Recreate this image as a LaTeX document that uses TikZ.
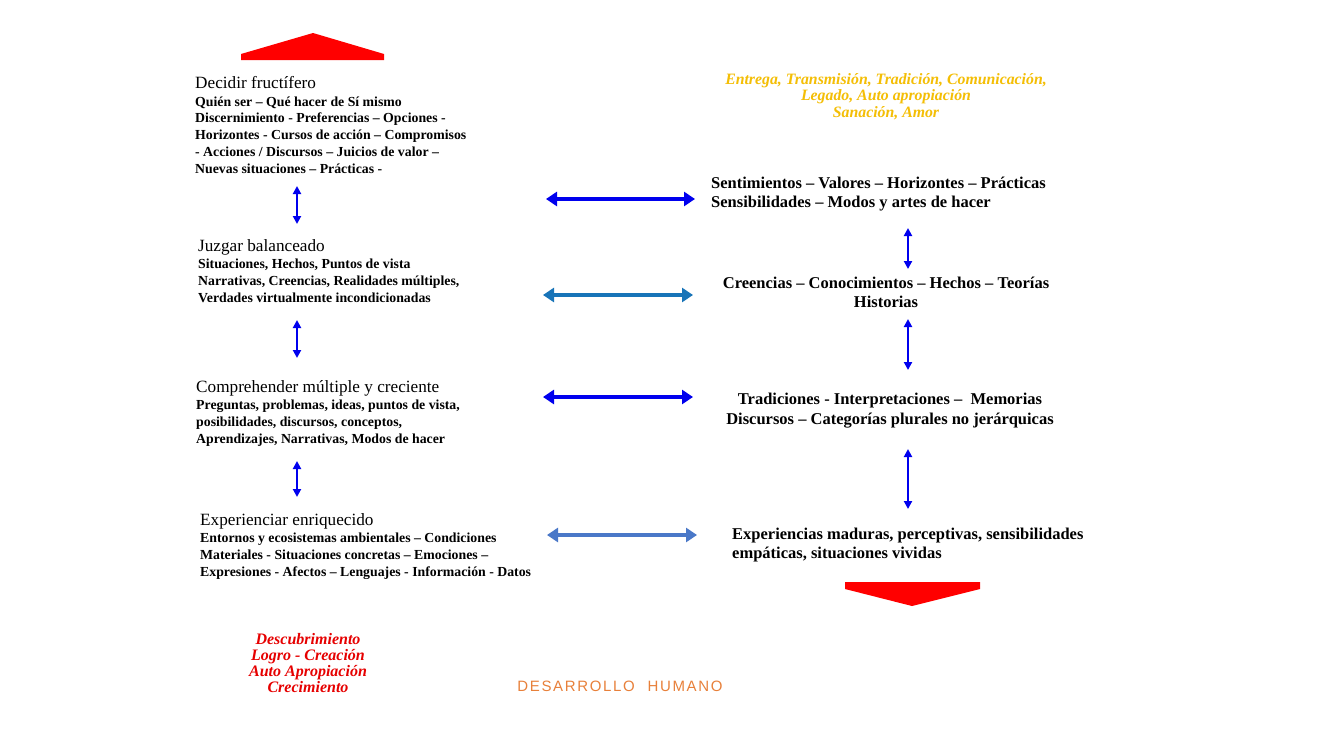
\documentclass[tikz,border=0pt]{standalone}
\usepackage{fontspec}
\setmainfont{Liberation Serif}
\newfontfamily\labelsans[LetterSpace=11]{Liberation Sans}
\usetikzlibrary{arrows.meta}
\definecolor{arrblue}{HTML}{0000EE}
\definecolor{steelA}{HTML}{1874B8}
\definecolor{steelB}{HTML}{4A78C8}
\definecolor{goldtxt}{HTML}{F4BE05}
\definecolor{redtxt}{HTML}{E60000}
\definecolor{redarr}{HTML}{FF0000}
\definecolor{orangetxt}{HTML}{E8803A}
\tikzset{
  leftblock/.style={anchor=north west, inner sep=0pt, align=left,
    font=\bfseries\fontsize{13.8}{16.8}\selectfont},
  rightblock/.style={inner sep=0pt, font=\bfseries\fontsize{16.5}{19.5}\selectfont},
  hdbl/.style={line width=4.5pt, {Triangle[width=14pt,length=11pt]}-{Triangle[width=14pt,length=11pt]}},
  vdbl/.style={arrblue, line width=2.6pt, {Triangle[width=8pt,length=8pt]}-{Triangle[width=8pt,length=8pt]}},
  redshape/.style={fill=redarr, draw=none},
}
\newcommand{\ttl}[1]{{\mdseries\fontsize{17.2}{19}\selectfont #1}}
\begin{document}
\begin{tikzpicture}[x=1pt,y=-1pt]
\useasboundingbox (0,0) rectangle (1333,750);
\fill[white] (0,0) rectangle (1333,750);

% red arrows
\fill[redshape] (241,54) -- (313,33) -- (384,54) -- (384,60) -- (241,60) -- cycle;
\fill[redshape] (845,582) -- (980,582) -- (980,589) -- (912,606) -- (845,589) -- cycle;

% left blocks
\node[leftblock] (dec) at (195,76.5) {\ttl{Decidir fructífero}\\[0.5pt]
Quién ser – Qué hacer de Sí mismo\\
Discernimiento - Preferencias – Opciones -\\
Horizontes - Cursos de acción – Compromisos\\
- Acciones / Discursos – Juicios de valor –\\
Nuevas situaciones – Prácticas -};

\node[leftblock] (juz) at (198,239.5) {\ttl{Juzgar balanceado}\\[0.5pt]
Situaciones, Hechos, Puntos de vista\\
Narrativas, Creencias, Realidades múltiples,\\
Verdades virtualmente incondicionadas};

\node[leftblock] (com) at (196,380.5) {\ttl{Comprehender múltiple y creciente}\\[0.5pt]
Preguntas, problemas, ideas, puntos de vista,\\
posibilidades, discursos, conceptos,\\
Aprendizajes, Narrativas, Modos de hacer};

\node[leftblock] (exp) at (200,513.5) {\ttl{Experienciar enriquecido}\\[0.5pt]
Entornos y ecosistemas ambientales – Condiciones\\
Materiales - Situaciones concretas – Emociones –\\
Expresiones - Afectos – Lenguajes - Información - Datos};

% right blocks
\node[rightblock, anchor=north west, align=left] (sen) at (711,176.5) {Sentimientos – Valores – Horizontes – Prácticas\\
Sensibilidades – Modos y artes de hacer};
\node[rightblock, anchor=north, align=center] (cre) at (886,276.5) {Creencias – Conocimientos – Hechos – Teorías\\
Historias};
\node[rightblock, anchor=north, align=center] (tra) at (890,393) {Tradiciones - Interpretaciones –~ Memorias\\[0.5pt]
Discursos – Categorías plurales no jerárquicas};
\node[rightblock, anchor=north west, align=left] (mad) at (732,527.5) {Experiencias maduras, perceptivas, sensibilidades\\
empáticas, situaciones vividas};

% gold text
\node[anchor=north, align=center, inner sep=0pt, text=goldtxt,
  font=\bfseries\itshape\fontsize{15.8}{16.5}\selectfont] (ent) at (886,73)
  {Entrega, Transmisión, Tradición, Comunicación,\\
   Legado, Auto apropiación\\
   Sanación, Amor};

% red text
\node[anchor=north, align=center, inner sep=0pt, text=redtxt,
  font=\bfseries\itshape\fontsize{16}{16}\selectfont] (des) at (308,633)
  {Descubrimiento\\ Logro - Creación\\ Auto Apropiación\\ Crecimiento};

% title bottom
\node[anchor=center, inner sep=0pt, text=orangetxt,
  font=\labelsans\fontsize{15}{16}\selectfont] (dh) at (620,686)
  {DESARROLLO\hspace{7pt} HUMANO};

% vertical arrows left
\coordinate (l1a) at (297,186); \coordinate (l1b) at (297,224);
\coordinate (l2a) at (297,320); \coordinate (l2b) at (297,358);
\coordinate (l3a) at (297,461); \coordinate (l3b) at (297,497);
\draw[vdbl] (l1a) -- (l1b);
\draw[vdbl] (l2a) -- (l2b);
\draw[vdbl] (l3a) -- (l3b);

% vertical arrows right
\coordinate (r1a) at (908,228); \coordinate (r1b) at (908,269);
\coordinate (r2a) at (908,319); \coordinate (r2b) at (908,370);
\coordinate (r3a) at (908,449); \coordinate (r3b) at (908,509);
\draw[vdbl] (r1a) -- (r1b);
\draw[vdbl] (r2a) -- (r2b);
\draw[vdbl] (r3a) -- (r3b);

% horizontal arrows
\coordinate (h1a) at (546,199); \coordinate (h1b) at (695,199);
\coordinate (h2a) at (543,295); \coordinate (h2b) at (693,295);
\coordinate (h3a) at (543,397); \coordinate (h3b) at (693,397);
\coordinate (h4a) at (547,535); \coordinate (h4b) at (697,535);
\draw[hdbl, arrblue] (h1a) -- (h1b);
\draw[hdbl, steelA] (h2a) -- (h2b);
\draw[hdbl, arrblue] (h3a) -- (h3b);
\draw[hdbl, steelB] (h4a) -- (h4b);
\end{tikzpicture}
\end{document}
